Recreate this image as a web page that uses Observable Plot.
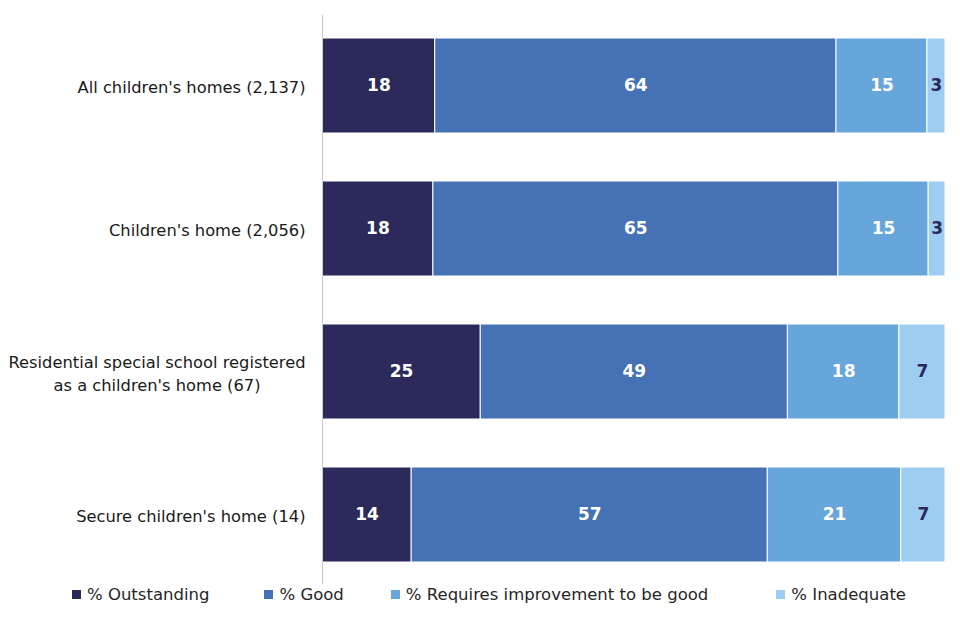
<!DOCTYPE html>
<html>
<head>
<meta charset="utf-8">
<script src="https://cdn.jsdelivr.net/npm/d3@7"></script>
<script src="https://cdn.jsdelivr.net/npm/@observablehq/plot@0.6"></script>
<style>
  body { margin: 0; background: #fff; font-family: "DejaVu Sans", sans-serif; }
  #legend { display: flex; justify-content: flex-start; padding-left: 72px; height: 20px; align-items: center; font-size: 16.5px; color: #262626; }
  #legend .item { display: flex; align-items: center; white-space: nowrap; }
  #legend .sw { width: 9px; height: 9px; margin-right: 6px; }
</style>
</head>
<body>
<div id="chart"></div>
<div id="legend"></div>
<script>
const categories = [
  "All children's homes (2,137)",
  "Children's home (2,056)",
  "Residential special school registered\nas a children's home (67)",
  "Secure children's home (14)"
];
const ratings = ["% Outstanding", "% Good", "% Requires improvement to be good", "% Inadequate"];
const outstanding = [18.1, 17.8, 25.4, 14.3];
const good = [64.4, 65.0, 49.3, 57.1];
const requiresImprovement = [14.6, 14.5, 17.9, 21.4];
const inadequate = [2.9, 2.7, 7.4, 7.1];
const colors = ["#2B2A5A", "#4472B4", "#67A6DB", "#9ECDF2"];
const labelColors = ["#ffffff", "#ffffff", "#ffffff", "#2B2A5A"];

const series = [outstanding, good, requiresImprovement, inadequate];
const data = [];
categories.forEach((c, i) => {
  ratings.forEach((r, j) => {
    data.push({category: c, rating: r, value: series[j][i], idx: j});
  });
});

const chart = Plot.plot({
  width: 960,
  height: 584,
  marginLeft: 322,
  marginRight: 15,
  marginTop: 15,
  marginBottom: 0,
  style: {fontFamily: "'DejaVu Sans', sans-serif", background: "#fff"},
  x: {domain: [0, 1], axis: null},
  y: {domain: categories, paddingInner: 0.337, paddingOuter: 0.154, label: null},
  color: {domain: ratings, range: colors},
  marks: [
    Plot.barX(data, Plot.stackX({
      x: "value", y: "category", z: "rating", fill: "rating",
      offset: "normalize", order: ratings,
      stroke: "white", strokeWidth: 1
    })),
    Plot.textX(data, Plot.stackX({
      x: "value", y: "category", z: "rating",
      offset: "normalize", order: ratings,
      text: d => String(Math.round(d.value)),
      fill: d => labelColors[d.idx],
      fontSize: 17, fontWeight: "bold"
    })),
    Plot.ruleX([0], {stroke: "#c8c8c8", strokeWidth: 1}),
    Plot.axisY({
      tickSize: 0, tickPadding: 17, fontSize: 16.3, lineHeight: 1.42,
      textAnchor: "end", fill: "#1a1a1a", label: null
    })
  ]
});
document.getElementById("chart").appendChild(chart);

// center multi-line tick labels relative to their longest line
chart.querySelectorAll("text").forEach(t => {
  const spans = t.querySelectorAll("tspan");
  if (spans.length > 1) {
    const widths = Array.from(spans, s => s.getComputedTextLength());
    const maxW = Math.max(...widths);
    spans.forEach((s, k) => s.setAttribute("x", String(-(maxW - widths[k]) / 2)));
  }
});

const legend = document.getElementById("legend");
const gaps = [55, 47, 68, 0];
ratings.forEach((r, j) => {
  const item = document.createElement("div");
  item.className = "item";
  item.style.marginRight = gaps[j] + "px";
  const sw = document.createElement("span");
  sw.className = "sw";
  sw.style.background = colors[j];
  const lab = document.createElement("span");
  lab.textContent = r;
  item.appendChild(sw);
  item.appendChild(lab);
  legend.appendChild(item);
});
</script>
</body>
</html>
